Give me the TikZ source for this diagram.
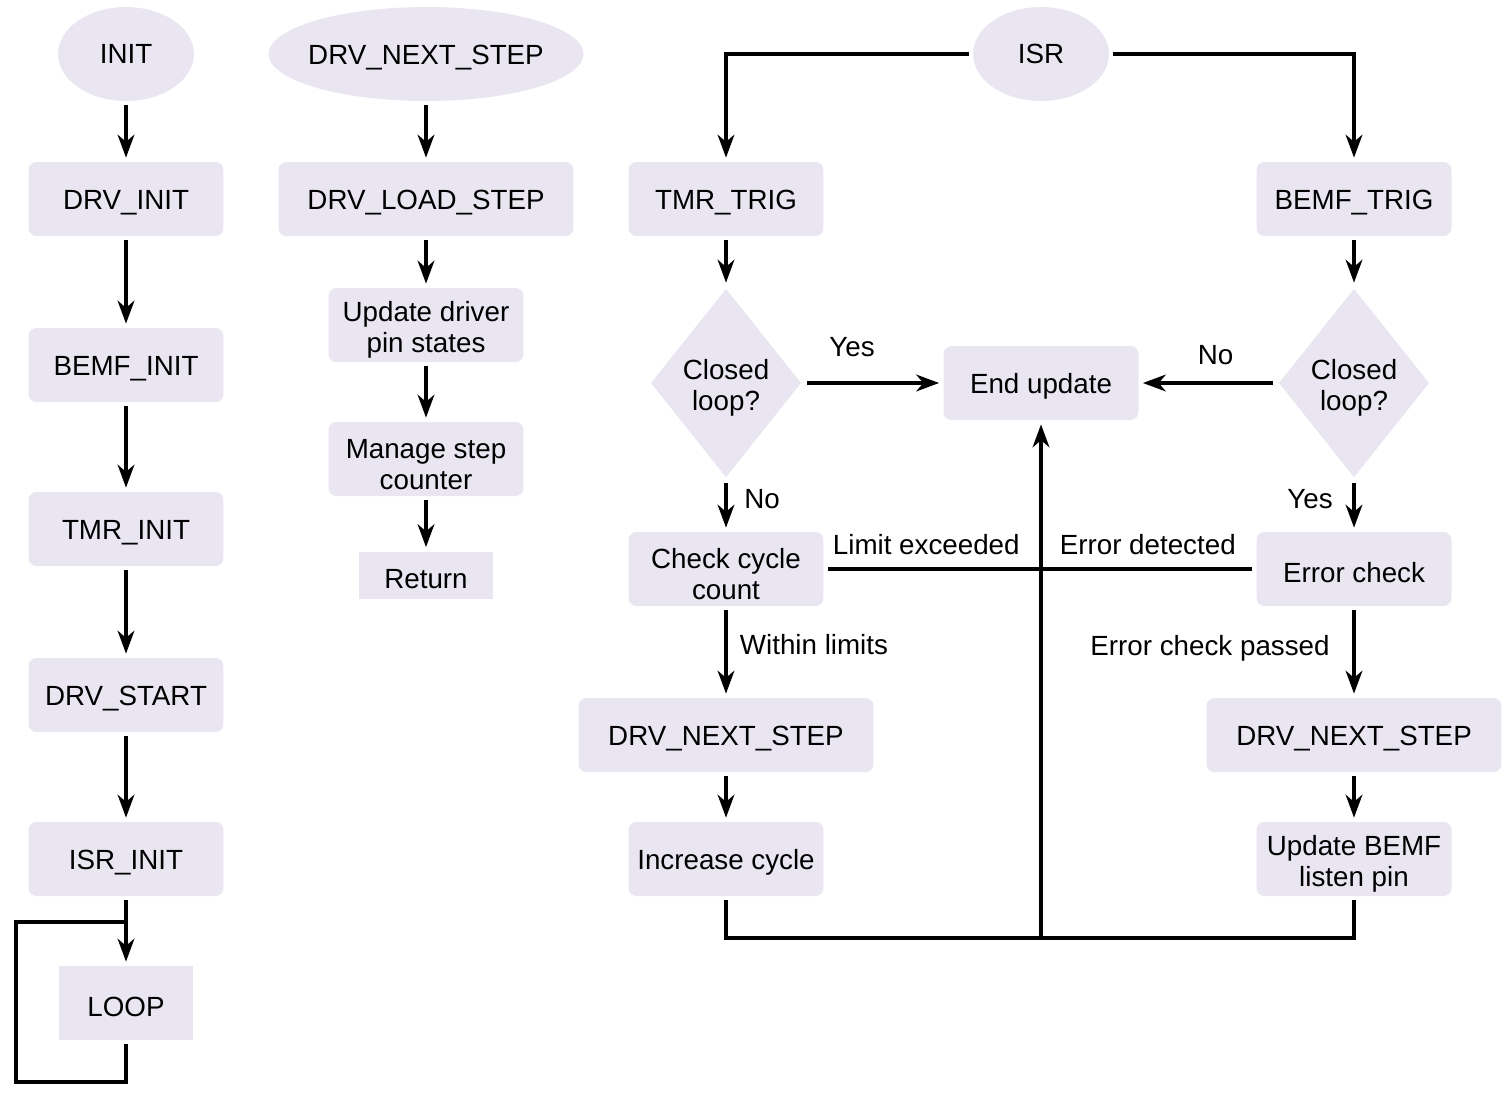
\documentclass[tikz,border=0pt]{standalone}
\usepackage{fontspec}
\setmainfont{Liberation Sans}
\usetikzlibrary{shapes.geometric,arrows.meta}
\definecolor{boxfill}{HTML}{E9E6F2}
\newcommand\boxstrut{\rule{0pt}{17pt}}
\begin{document}
\begin{tikzpicture}[x=0.02cm, y=-0.02cm, font=\fontsize{15.8}{18}\selectfont,
    base/.style={fill=boxfill, draw=none, outer sep=2.5pt, align=center, inner sep=0pt},
    lowered/.style={base, execute at begin node={\rule{0pt}{15.5pt}}},
    blk/.style={lowered, rounded corners=4.5pt, minimum width=3.9cm, minimum height=1.48cm},
    wideblk/.style={blk, minimum width=5.9cm},
    plainblk/.style={lowered, minimum width=2.7cm, minimum height=1.48cm},
    oval/.style={base, ellipse, minimum width=2.72cm, minimum height=1.88cm},
    decide/.style={lowered, diamond, minimum width=3.04cm, minimum height=3.84cm},
    flow/.style={line width=2pt},
    arr/.style={flow, arrows={-Stealth[length=13pt, width=9.5pt, inset=4pt]}}]
    \useasboundingbox (0,0) rectangle (1506,1100);

    % init column
    \node[oval] (init) at (126,54) {INIT};
    \node[blk] (drvinit) at (126,199) {DRV\_INIT};
    \node[blk] (bemfinit) at (126,365) {BEMF\_INIT};
    \node[blk] (tmrinit) at (126,529) {TMR\_INIT};
    \node[blk] (drvstart) at (126,695) {DRV\_START};
    \node[blk] (isrinit) at (126,859) {ISR\_INIT};
    \node[plainblk] (loop) at (126,1003) {LOOP};
    \coordinate (lpbot) at (16,1082);
    \coordinate (lptop) at (126,922);

    \draw[arr] (init) -- (drvinit);
    \draw[arr] (drvinit) -- (bemfinit);
    \draw[arr] (bemfinit) -- (tmrinit);
    \draw[arr] (tmrinit) -- (drvstart);
    \draw[arr] (drvstart) -- (isrinit);
    \draw[arr] (isrinit) -- (loop);
    \draw[flow] (loop.south) |- (lpbot) |- (lptop);

    % next step column
    \node[oval, lowered, minimum width=6.3cm, inner xsep=-3.8pt] (nxt) at (426,54) {DRV\_NEXT\_STEP};
    \node[wideblk] (load) at (426,199) {DRV\_LOAD\_STEP};
    \node[blk] (pins) at (426,325) {\boxstrut Update driver\\pin states};
    \node[blk] (cnt) at (426,459) {\boxstrut Manage step\\counter};
    \node[plainblk, minimum height=0.94cm] (ret) at (426,575) {Return};

    \draw[arr] (nxt) -- (load);
    \draw[arr] (load) -- (pins);
    \draw[arr] (pins) -- (cnt);
    \draw[arr] (cnt) -- (ret);

    % isr
    \node[oval] (isr) at (1041,54) {ISR};
    \node[blk] (tmrtrig) at (726,199) {TMR\_TRIG};
    \node[blk] (bemftrig) at (1354,199) {BEMF\_TRIG};
    \node[decide] (clL) at (726,383) {\boxstrut Closed\\loop?};
    \node[decide] (clR) at (1354,383) {\boxstrut Closed\\loop?};
    \node[blk] (endupd) at (1041,383) {End update};
    \node[blk] (chk) at (726,569) {\boxstrut Check cycle\\count};
    \node[blk] (errchk) at (1354,569) {Error check};
    \node[wideblk] (nxtL) at (726,735) {DRV\_NEXT\_STEP};
    \node[wideblk] (nxtR) at (1354,735) {DRV\_NEXT\_STEP};
    \node[blk] (inc) at (726,859) {Increase cycle};
    \node[blk] (listen) at (1354,859) {\boxstrut Update BEMF\\listen pin};
    \coordinate (join) at (1041,938);

    \draw[arr] (isr) -| (tmrtrig);
    \draw[arr] (isr) -| (bemftrig);
    \draw[arr] (tmrtrig) -- (clL);
    \draw[arr] (bemftrig) -- (clR);
    \draw[arr] (clL) -- node[pos=0.34, yshift=0.72cm] {Yes} (endupd);
    \draw[arr] (clR) -- node[pos=0.44, yshift=0.56cm] {No} (endupd);
    \draw[arr] (clL) -- node[pos=0.36, xshift=0.72cm] {No} (chk);
    \draw[arr] (clR) -- node[pos=0.36, xshift=-0.88cm] {Yes} (errchk);
    \draw[flow] (chk) -- node[pos=0.232, yshift=0.48cm] {Limit exceeded}
        node[pos=0.754, yshift=0.48cm] {Error detected} (errchk);
    \draw[arr] (chk) -- node[pos=0.41, xshift=1.76cm] {Within limits} (nxtL);
    \draw[arr] (errchk) -- node[pos=0.45, xshift=-2.88cm] {Error check passed} (nxtR);
    \draw[arr] (nxtL) -- (inc);
    \draw[arr] (nxtR) -- (listen);
    \draw[flow] (inc.south) |- (join) -| (listen.south);
    \draw[arr] (join) -- (endupd);

\end{tikzpicture}
\end{document}
